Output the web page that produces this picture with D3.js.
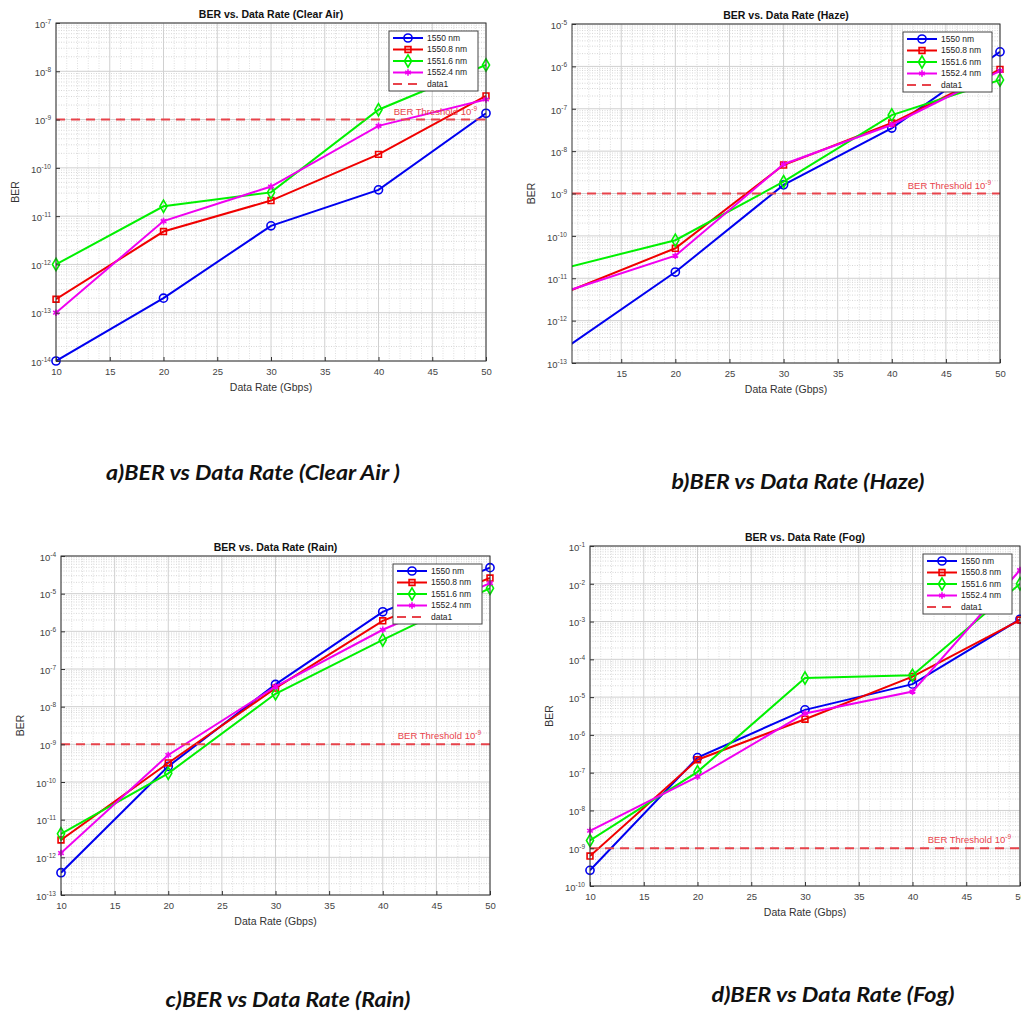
<!DOCTYPE html>
<html>
<head>
<meta charset="utf-8">
<script src="https://cdn.jsdelivr.net/npm/d3@7"></script>
<style>
  body { margin: 0; background: #fff; }
  svg { display: block; font-family: "Liberation Sans", Arial, sans-serif; }
</style>
</head>
<body>
<div id="grafico"></div>
<script>
const width = 1021
const height = 1017

// x values and series names
const dataRates = [10, 20, 30, 40, 50]
const wavelengths = ['1550 nm', '1550.8 nm', '1551.6 nm', '1552.4 nm']

// BER per wavelength, one row per series
const clearAirBER = [
  [1.0e-14, 2.0e-13, 6.3e-12, 3.5e-11, 1.35e-9],
  [1.9e-13, 4.8e-12, 2.1e-11, 1.9e-10, 3.1e-9],
  [1.0e-12, 1.6e-11, 3.1e-11, 1.6e-9, 1.35e-8],
  [1.0e-13, 7.9e-12, 4.1e-11, 7.4e-10, 2.6e-9]
]
const hazeBER = [
  [2.4e-13, 1.4e-11, 1.6e-9, 3.5e-8, 2.2e-6],
  [4.8e-12, 5.1e-11, 4.7e-9, 4.6e-8, 8.5e-7],
  [1.8e-11, 7.9e-11, 1.9e-9, 7.1e-8, 4.8e-7],
  [5.0e-12, 3.4e-11, 4.9e-9, 4.2e-8, 7.8e-7]
]
const rainBER = [
  [3.9e-13, 2.6e-10, 3.9e-8, 3.3e-6, 4.9e-5],
  [2.9e-12, 3.2e-10, 3.1e-8, 1.9e-6, 2.6e-5],
  [4.2e-12, 1.7e-10, 2.2e-8, 5.9e-7, 1.4e-5],
  [1.3e-12, 5.2e-10, 3.4e-8, 1.1e-6, 1.9e-5]
]
const fogBER = [
  [2.6e-10, 2.5e-7, 4.6e-6, 2.2e-5, 1.15e-3],
  [6.2e-10, 2.2e-7, 2.6e-6, 3.5e-5, 1.1e-3],
  [1.6e-9, 1.05e-7, 3.2e-5, 3.8e-5, 1.0e-2],
  [2.9e-9, 7.8e-8, 3.7e-6, 1.4e-5, 2.3e-2]
]
const thresholdBER = 1e-9

const panelTitles = ['BER vs. Data Rate (Clear Air)', 'BER vs. Data Rate (Haze)', 'BER vs. Data Rate (Rain)', 'BER vs. Data Rate (Fog)']
const captions = ['a)BER vs Data Rate (Clear Air )', 'b)BER vs Data Rate (Haze)', 'c)BER vs Data Rate (Rain)', 'd)BER vs Data Rate (Fog)']
const yExponents = [[-14, -7], [-13, -5], [-13, -4], [-10, -1]]
const xStarts = [10, 10.45, 10, 10]
const xTickValues = [
  [10, 15, 20, 25, 30, 35, 40, 45, 50],
  [15, 20, 25, 30, 35, 40, 45, 50],
  [10, 15, 20, 25, 30, 35, 40, 45, 50],
  [10, 15, 20, 25, 30, 35, 40, 45, 50]
]

// layout
const boxes = [
  { l: 56, t: 23, r: 486, b: 361, cx: 253, cy: 480, cw: 294 },
  { l: 572, t: 24, r: 1000, b: 363, cx: 798, cy: 489, cw: 253 },
  { l: 61, t: 556, r: 490, b: 895, cx: 288, cy: 1007, cw: 245 },
  { l: 590, t: 546, r: 1020, b: 886, cx: 833, cy: 1002, cw: 243 }
]
const colors = ['#0000f0', '#f00000', '#00f000', '#f000f0']
const symbols = [d3.symbolCircle, d3.symbolSquare, d3.symbolDiamond, d3.symbolAsterisk]
const symbolSizes = [52, 34, 44, 30]

const svg = d3.select('#grafico').append('svg')
              .attr('width', width)
              .attr('height', height)

const allData = [clearAirBER, hazeBER, rainBER, fogBER]

allData.forEach((series, p) => {
  const box = boxes[p]
  const [lo, hi] = yExponents[p]
  const x = d3.scaleLinear().domain([xStarts[p], 50]).range([box.l, box.r])
  const y = d3.scaleLog().domain([Math.pow(10, lo), Math.pow(10, hi)]).range([box.b, box.t])
  const g = svg.append('g')

  g.append('rect')
   .attr('x', box.l).attr('y', box.t)
   .attr('width', box.r - box.l).attr('height', box.b - box.t)
   .attr('fill', '#fff')

  // minor grid
  const yMinor = y.ticks().filter(v => Math.abs(Math.log10(v) - Math.round(Math.log10(v))) > 1e-6)
  g.selectAll('.ymin').data(yMinor).enter().append('line')
   .attr('x1', box.l).attr('x2', box.r)
   .attr('y1', d => y(d)).attr('y2', d => y(d))
   .attr('stroke', '#d6d6d6').attr('stroke-width', 1).attr('stroke-dasharray', '1,1.5')
  const xMinor = d3.range(Math.ceil(xStarts[p]), 51).filter(v => v % 5 != 0)
  g.selectAll('.xmin').data(xMinor).enter().append('line')
   .attr('x1', d => x(d)).attr('x2', d => x(d))
   .attr('y1', box.t).attr('y2', box.b)
   .attr('stroke', '#dedede').attr('stroke-width', 1).attr('stroke-dasharray', '1,1.5')

  // major grid
  const yMajor = d3.range(lo, hi + 1).map(e => Math.pow(10, e))
  g.selectAll('.ymaj').data(yMajor).enter().append('line')
   .attr('x1', box.l).attr('x2', box.r)
   .attr('y1', d => y(d)).attr('y2', d => y(d))
   .attr('stroke', '#d0d0d0').attr('stroke-width', 1)
  g.selectAll('.xmaj').data(d3.range(10, 51, 5).filter(v => v >= xStarts[p])).enter().append('line')
   .attr('x1', d => x(d)).attr('x2', d => x(d))
   .attr('y1', box.t).attr('y2', box.b)
   .attr('stroke', '#d0d0d0').attr('stroke-width', 1)

  // series
  const clipId = 'clip' + p
  g.append('clipPath').attr('id', clipId).append('rect')
   .attr('x', box.l).attr('y', box.t)
   .attr('width', box.r - box.l).attr('height', box.b - box.t)

  const line = d3.line().x(d => x(d[0])).y(d => y(d[1]))
  series.forEach((vals, i) => {
    const pts = dataRates.map((r, j) => [r, vals[j]])
    g.append('path')
     .attr('d', line(pts))
     .attr('clip-path', `url(#${clipId})`)
     .attr('fill', 'none')
     .attr('stroke', colors[i])
     .attr('stroke-width', 2)
    g.selectAll('.mk' + i).data(pts.filter(d => d[0] >= xStarts[p])).enter().append('path')
     .attr('transform', d => `translate(${x(d[0])},${y(d[1])})`)
     .attr('d', d3.symbol().type(symbols[i]).size(symbolSizes[i]))
     .attr('fill', 'none')
     .attr('stroke', colors[i])
     .attr('stroke-width', 1.6)
  })

  // threshold
  g.append('line')
   .attr('x1', box.l).attr('x2', box.r)
   .attr('y1', y(thresholdBER)).attr('y2', y(thresholdBER))
   .attr('stroke', '#e8434b').attr('stroke-width', 2).attr('stroke-dasharray', '9,6')
  const thr = g.append('text')
   .attr('x', box.r - 9).attr('y', y(thresholdBER) - 5)
   .attr('text-anchor', 'end')
   .attr('font-size', 9.5)
   .attr('fill', '#e8434b')
  thr.append('tspan').text('BER  Threshold  10')
  thr.append('tspan').attr('dy', -4).attr('font-size', 6.5).text('-9')

  // axes
  const xAxis = d3.axisBottom(x).tickValues(xTickValues[p]).tickSizeInner(-4).tickSizeOuter(0).tickPadding(7)
  const xg = g.append('g').attr('transform', `translate(0,${box.b})`).call(xAxis)
  xg.select('.domain').remove()
  xg.selectAll('line').attr('stroke', '#333')
  xg.selectAll('text').attr('font-size', 9.5).attr('fill', '#444').attr('font-family', '"Liberation Sans", Arial, sans-serif')

  const yAxis = d3.axisLeft(y).tickValues(yMajor).tickSizeInner(-4).tickSizeOuter(0).tickPadding(5).tickFormat(() => '')
  const yg = g.append('g').attr('transform', `translate(${box.l},0)`).call(yAxis)
  yg.select('.domain').remove()
  yg.selectAll('line').attr('stroke', '#333')
  yg.selectAll('.tick text').each(function(d) {
    const t = d3.select(this)
    t.attr('font-size', 9.5).attr('fill', '#444').attr('font-family', '"Liberation Sans", Arial, sans-serif').attr('dy', '0.45em')
    t.append('tspan').text('10')
    t.append('tspan').attr('dy', -4).attr('font-size', 6.5).text(String(Math.round(Math.log10(d))))
  })

  g.append('rect')
   .attr('x', box.l).attr('y', box.t)
   .attr('width', box.r - box.l).attr('height', box.b - box.t)
   .attr('fill', 'none').attr('stroke', '#333').attr('stroke-width', 1)

  // labels
  g.append('text')
   .attr('x', (box.l + box.r) / 2).attr('y', box.t - 5)
   .attr('text-anchor', 'middle')
   .attr('font-size', 10.5).attr('font-weight', 'bold').attr('fill', '#111')
   .text(panelTitles[p])
  g.append('text')
   .attr('x', (box.l + box.r) / 2).attr('y', box.b + 30)
   .attr('text-anchor', 'middle')
   .attr('font-size', 10.5).attr('fill', '#333')
   .text('Data Rate (Gbps)')
  g.append('text')
   .attr('transform', `translate(${box.l - 37},${(box.t + box.b) / 2}) rotate(-90)`)
   .attr('text-anchor', 'middle')
   .attr('font-size', 10.5).attr('fill', '#333')
   .text('BER')

  // legend
  const lw = 89, lh = 60
  const lx = box.r - 8 - lw, ly = box.t + 8
  const leg = g.append('g').attr('transform', `translate(${lx},${ly})`)
  leg.append('rect').attr('width', lw).attr('height', lh)
     .attr('fill', '#fff').attr('stroke', '#444').attr('stroke-width', 1)
  const entries = wavelengths.concat(['data1'])
  entries.forEach((name, i) => {
    const ey = 7 + i * 11.5
    const row = leg.append('g').attr('transform', `translate(0,${ey})`)
    if (i < 4) {
      row.append('line').attr('x1', 4).attr('x2', 34).attr('stroke', colors[i]).attr('stroke-width', 2)
      row.append('path')
         .attr('transform', 'translate(19,0)')
         .attr('d', d3.symbol().type(symbols[i]).size(symbolSizes[i]))
         .attr('fill', 'none').attr('stroke', colors[i]).attr('stroke-width', 1.6)
    } else {
      row.append('line').attr('x1', 4).attr('x2', 34)
         .attr('stroke', '#e8434b').attr('stroke-width', 2).attr('stroke-dasharray', '9,6')
    }
    row.append('text').attr('x', 38).attr('dy', '0.35em')
       .attr('font-size', 8.5).attr('fill', '#222').text(name)
  })

  // caption
  svg.append('text')
     .attr('x', box.cx).attr('y', box.cy)
     .attr('text-anchor', 'middle')
     .attr('font-family', 'Lato, "Open Sans", sans-serif')
     .attr('font-style', 'italic').attr('font-weight', 'bold')
     .attr('font-size', 20).attr('fill', '#111')
     .attr('textLength', box.cw).attr('lengthAdjust', 'spacingAndGlyphs')
     .text(captions[p])
})
</script>
</body>
</html>
